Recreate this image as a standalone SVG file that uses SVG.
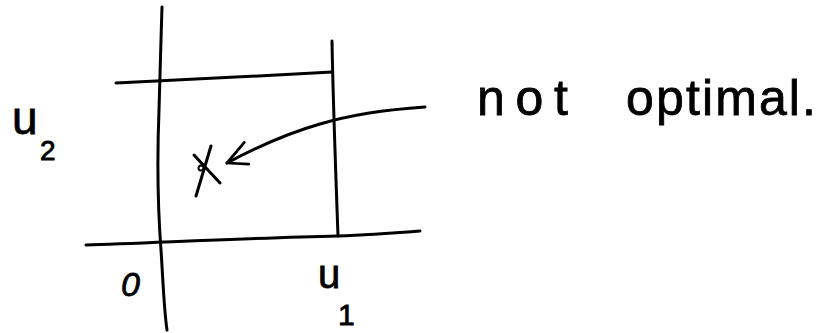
<svg xmlns="http://www.w3.org/2000/svg" width="835" height="333" viewBox="0 0 835 333">
<style>
.ln{fill:none;stroke:#000;stroke-width:3;stroke-linecap:round;stroke-linejoin:round}
.t{font-family:"Liberation Sans",Arial,sans-serif;fill:#000;stroke:#000;stroke-width:0.8}
</style>
<defs>
<marker id="ah" viewBox="0 0 24 24" refX="22" refY="12" markerWidth="30" markerHeight="30" markerUnits="userSpaceOnUse" orient="auto">
<path d="M7,3 L22,12 L2,20" fill="none" stroke="#000" stroke-width="2.2" stroke-linecap="round" stroke-linejoin="round"/>
</marker>
</defs>
<rect width="835" height="333" fill="#fff"/>
<g id="axes">
<path class="ln" d="M162,7 C161,40 160,70 159,110 C157,160 158,210 161,250 C163,280 164,310 167,330"/>
<path class="ln" d="M86,245 C150,243 250,238 338,236 C370,235 395,233 420,231"/>
</g>
<g id="box">
<path class="ln" d="M116,83 C180,80 260,76 332,72"/>
<path class="ln" d="M332,41 C333,100 336,180 338,236"/>
</g>
<g id="point">
<path class="ln" d="M196,196 L211,146"/>
<path class="ln" d="M194,155 L220,183"/>
<circle cx="201" cy="168" r="2.5" fill="none" stroke="#000" stroke-width="2"/>
</g>
<g id="connectors">
<path class="ln" d="M425,107 C380,110 350,115 320,124 C285,134 255,148 227,163" marker-end="url(#ah)"/>
</g>
<g id="labels">
<text class="t" x="12" y="134" font-size="46">u</text>
<text class="t" x="40" y="160" font-size="28">2</text>
<text class="t" x="121" y="296" font-size="34" font-style="italic">0</text>
<text class="t" x="318" y="288" font-size="40">u</text>
<text class="t" x="338" y="325" font-size="30">1</text>
<text class="t" x="477" y="115" font-size="50" textLength="91" lengthAdjust="spacing">not</text>
<text class="t" x="626" y="115" font-size="50" textLength="190" lengthAdjust="spacing">optimal.</text>
</g>
</svg>
